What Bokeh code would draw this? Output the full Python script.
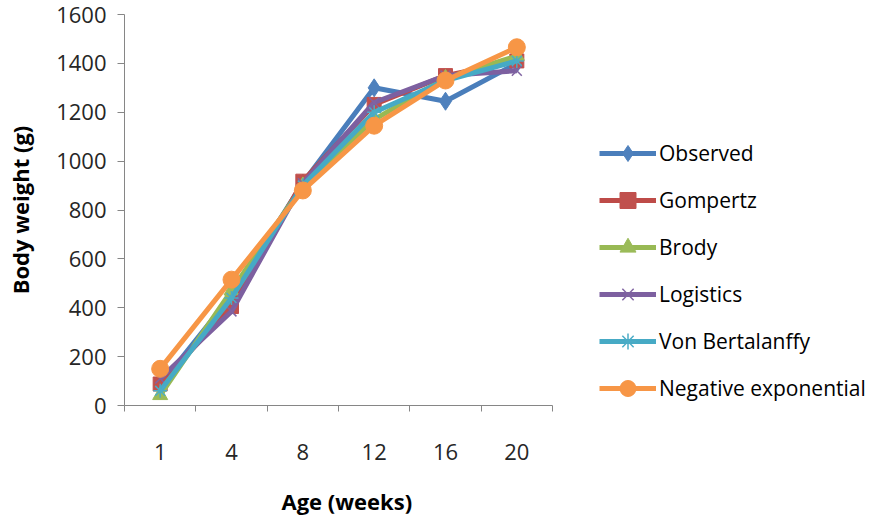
from bokeh.plotting import figure
from bokeh.models import Legend, LegendItem, FixedTicker, Range1d, Title
from bokeh.embed import file_html
from bokeh.resources import INLINE

ages = ["1", "4", "8", "12", "16", "20"]
y_ticks = [0, 200, 400, 600, 800, 1000, 1200, 1400, 1600]

observed = [85, 450, 910, 1300, 1245, 1400]
gompertz = [88, 405, 918, 1232, 1350, 1410]
brody = [42, 470, 900, 1170, 1340, 1430]
logistics = [110, 385, 910, 1240, 1350, 1370]
von_bertalanffy = [60, 440, 900, 1200, 1330, 1410]
neg_exponential = [150, 515, 880, 1145, 1330, 1466]

series = [
    ("Observed", observed, "#4A7EBB", "#4F81BD", "diamond", 18),
    ("Gompertz", gompertz, "#BE4B48", "#C0504D", "square", 14),
    ("Brody", brody, "#98B954", "#9BBB59", "triangle", 15),
    ("Logistics", logistics, "#7D60A0", "#8064A2", "x", 14),
    ("Von Bertalanffy", von_bertalanffy, "#46AAC5", "#4BACC6", "asterisk", 14),
    ("Negative exponential", neg_exponential, "#F79646", "#F79646", "circle", 17),
]

FONT = "Open Sans"
FS = "22px"
xs = list(range(1, len(ages) + 1))

# plotting frame spans the legend area too; the x axis is bounded to the data categories
AXIS_PX = 428
FRAME_PX = 743
x_end = 0.5 + len(ages) * FRAME_PX / AXIS_PX

p = figure(frame_width=FRAME_PX, frame_height=391, output_backend="svg", toolbar_location=None,
           x_range=Range1d(0.5, x_end), y_range=Range1d(0, 1600),
           min_border_left=124, min_border_top=14, min_border_bottom=0,
           min_border_right=0)
p.outline_line_color = None
p.xgrid.visible = False
p.ygrid.visible = False

items = []
for name, vals, lc, mc, marker, size in series:
    r1 = p.line(xs, vals, line_color=lc, line_width=5)
    if marker in ("x", "asterisk"):
        r2 = p.scatter(xs, vals, marker=marker, size=size, line_color=mc, line_width=1.5)
    else:
        r2 = p.scatter(xs, vals, marker=marker, size=size, fill_color=mc, line_color=mc)
    items.append(LegendItem(label=name, renderers=[r1, r2]))

# axes
p.xaxis.bounds = (0.5, len(ages) + 0.5)
p.xaxis.ticker = FixedTicker(ticks=xs, minor_ticks=[x + 0.5 for x in range(0, len(ages) + 1)])
p.xaxis.major_label_overrides = {x: a for x, a in zip(xs, ages)}
p.xaxis.major_tick_line_color = None
p.xaxis.minor_tick_out = 6
p.xaxis.minor_tick_in = 0
p.xaxis.minor_tick_line_color = "#868686"
p.xaxis.axis_line_color = "#868686"
p.xaxis.major_label_standoff = 32

p.yaxis.ticker = FixedTicker(ticks=y_ticks)
p.yaxis.minor_tick_line_color = None
p.yaxis.major_tick_out = 7
p.yaxis.major_tick_in = 0
p.yaxis.major_tick_line_color = "#868686"
p.yaxis.axis_line_color = "#868686"
p.yaxis.major_label_standoff = 11
p.yaxis.axis_label = "Body weight (g)"
p.yaxis.axis_label_standoff = 18

for ax in (p.xaxis[0], p.yaxis[0]):
    ax.major_label_text_font = FONT
    ax.major_label_text_font_size = FS
    ax.major_label_text_color = "#262626"
    ax.axis_label_text_font = FONT
    ax.axis_label_text_font_size = FS
    ax.axis_label_text_font_style = "bold"
    ax.axis_label_text_color = "#000000"

x_title = Title(text="Age (weeks)", align="left", offset=157, standoff=42,
                text_font=FONT, text_font_size=FS, text_font_style="bold",
                text_color="#000000")
p.add_layout(x_title, "below")

legend = Legend(items=items, location=(475, -3), padding=0, margin=0,
                border_line_color=None, background_fill_alpha=0,
                glyph_width=57, glyph_height=40, label_height=22, spacing=7,
                label_standoff=3, label_text_font=FONT, label_text_font_size="21px",
                label_text_color="#000000")
p.add_layout(legend, "center")

open("out.html", "w").write(file_html(p, INLINE))
